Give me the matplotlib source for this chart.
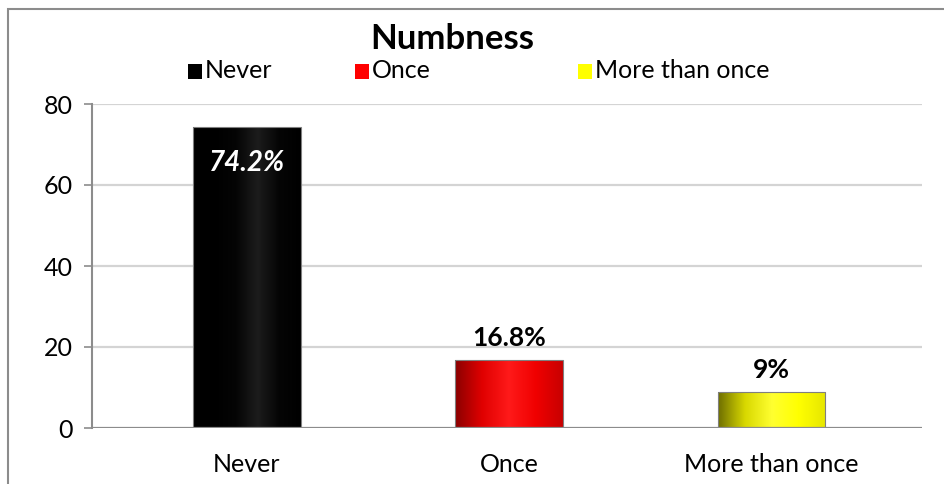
import numpy as np
import matplotlib
matplotlib.use("Agg")
import matplotlib.pyplot as plt
from matplotlib.patches import Rectangle
from matplotlib.colors import LinearSegmentedColormap

plt.rcParams['font.family'] = ['Lato', 'DejaVu Sans']

categories = ["Never", "Once", "More than once"]
values = [74.2, 16.8, 8.9]
labels = ["74.2%", "16.8%", "9%"]
yticks = [0, 20, 40, 60, 80]
title = "Numbness"

gradients = [
    ["#000000", "#000000", "#050505", "#1c1c1c", "#050505", "#000000"],
    ["#8a0000", "#e00000", "#ff1a1a", "#f00000", "#c80000"],
    ["#6e6e00", "#d8d800", "#ffff30", "#ffff00", "#e6e600"],
]
legend_colors = ["#000000", "#ff0000", "#ffff00"]

W, H = 945, 484
fig = plt.figure(figsize=(W / 100, H / 100), dpi=100)
fig.patch.set_facecolor("white")

# outer chart border (runs off the right and bottom edges)
fig.patches.append(Rectangle((8 / W, -0.1), 2, 1.1 - 9 / H, transform=fig.transFigure,
                             fill=False, edgecolor="#8c8c8c", lw=1.5))

ax = fig.add_axes([92 / W, (H - 428) / H, (922 - 92) / W, (428 - 104) / H])

x = np.arange(len(categories))
bars = ax.bar(x, values, width=0.41, color="none", edgecolor="#7f7f7f", lw=0.8, zorder=3)
for b, g in zip(bars, gradients):
    cmap = LinearSegmentedColormap.from_list("g", g)
    x0, y0 = b.get_x(), b.get_y()
    w, h = b.get_width(), b.get_height()
    im = ax.imshow(np.linspace(0, 1, 256).reshape(1, -1), cmap=cmap, aspect="auto",
                   extent=(x0, x0 + w, y0, y0 + h), zorder=2)
    im.set_clip_path(b)
ax.set_xlim(-0.59, 2.574)
ax.set_ylim(0, 80)

for v in yticks[1:]:
    ax.axhline(v, color="#d4d4d4", lw=1.6, zorder=1)
ax.axhline(0, color="#8c8c8c", lw=1.6, zorder=4)

for s in ["top", "right", "bottom"]:
    ax.spines[s].set_visible(False)
ax.spines["left"].set_color("#8c8c8c")
ax.spines["left"].set_linewidth(1.5)
ax.set_yticks(yticks)
ax.tick_params(axis="y", length=6, width=1.2, color="#8c8c8c", labelsize=18, pad=8)
ax.set_xticks(x)
ax.set_xticklabels(categories, fontsize=18)
ax.tick_params(axis="x", length=0, pad=18)

# value labels
ax.text(x[0], values[0] - 5.5, labels[0], ha="center", va="top", color="white",
        fontsize=20, fontweight="bold", style="italic", zorder=5)
for i in (1, 2):
    ax.text(x[i], values[i] + 2.5, labels[i], ha="center", va="bottom", color="black",
            fontsize=19, fontweight="bold", zorder=5)

fig.text(452 / W, 1 - 39 / H, title, ha="center", va="center", fontsize=25, fontweight="bold")

legend_x = [188, 355, 578]
for lx, c, name in zip(legend_x, legend_colors, categories):
    fig.patches.append(Rectangle((lx / W, 1 - 79 / H), 14 / W, 15 / H,
                                 transform=fig.transFigure, facecolor=c, edgecolor="none"))
    fig.text((lx + 17) / W, 1 - 71 / H, name, ha="left", va="center", fontsize=18)

fig.savefig("out.png", dpi=100, facecolor="white")
